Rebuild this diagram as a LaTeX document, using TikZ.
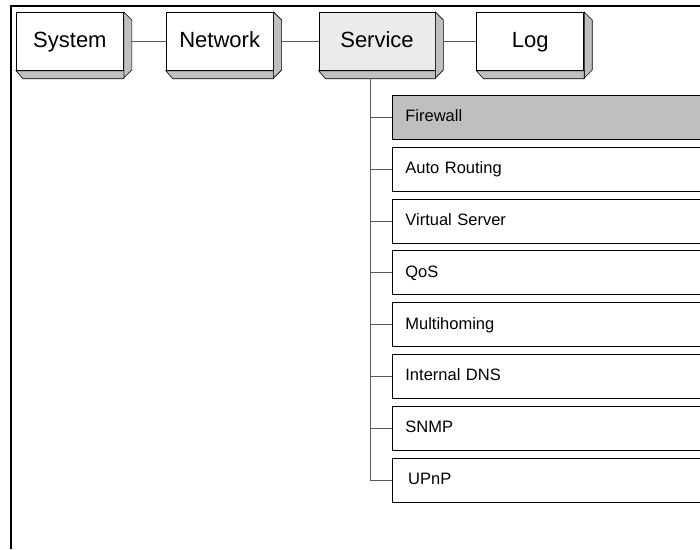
\documentclass[tikz,border=0pt]{standalone}
\usepackage{fontspec}
\setmainfont{Liberation Sans}
\usetikzlibrary{positioning}

\begin{document}
\begin{tikzpicture}[x=1pt,y=1pt]
\tikzset{every node/.style={inner sep=0pt}}
\tikzset{menubox/.style={draw,line width=0.8pt,minimum width=107pt,minimum height=58pt,text height=16pt,text depth=4pt,fill=white,font=\fontsize{22}{26}\selectfont}}
\tikzset{depth/.style={draw,line width=0.6pt,fill=black!25}}
\tikzset{subbox/.style={draw,line width=0.8pt,minimum height=44pt,text height=12pt,text depth=3pt,text width=294pt,inner xsep=13pt,align=left,fill=white,font=\fontsize{16.5}{19}\selectfont}}
\tikzset{branch/.style={draw=black!65,line width=0.8pt}}
\clip (0,0) rectangle (700,549);
% frame
\draw[line width=2pt] (11,0) -- (11,543) -- (700,543);
% top menu
\node[menubox,anchor=north west] (system) at (16,537) {System};
\node[menubox,right=42pt of system] (network) {Network};
\node[menubox,right=45pt of network,minimum width=116pt,fill=black!8] (service) {Service};
\node[menubox,right=41pt of service] (log) {Log};
\foreach \n in {system,network,service,log}{
  \filldraw[depth] (\n.north east) -- ++(8,-8) -- ++(0,-50) -- ++(-8,-8) -- cycle;
  \filldraw[depth] (\n.south west) -- ++(7,-8) -| (\n.south east) -- cycle;
}
\draw[branch] ([xshift=8pt]system.east) -- (network.west);
\draw[branch] ([xshift=8pt]network.east) -- (service.west);
\draw[branch] ([xshift=8pt]service.east) -- (log.west);
% service submenu
\node[subbox,anchor=north west,fill=black!25] (firewall) at (392,454) {Firewall};
\node[subbox,below=7pt of firewall] (autorouting) {Auto Routing};
\node[subbox,below=7pt of autorouting] (virtualserver) {Virtual Server};
\node[subbox,below=7pt of virtualserver] (qos) {QoS};
\node[subbox,below=7pt of qos] (multihoming) {Multihoming};
\node[subbox,below=7pt of multihoming] (internaldns) {Internal DNS};
\node[subbox,below=7pt of internaldns] (snmp) {SNMP};
\node[subbox,below=7pt of snmp] (upnp) {\,UPnP};
\coordinate (trunk) at (370,471);
\draw[branch] (trunk) |- (upnp.west);
\foreach \n in {firewall,autorouting,virtualserver,qos,multihoming,internaldns,snmp}
  \draw[branch] (trunk |- \n.west) -- (\n.west);
\end{tikzpicture}
\end{document}
